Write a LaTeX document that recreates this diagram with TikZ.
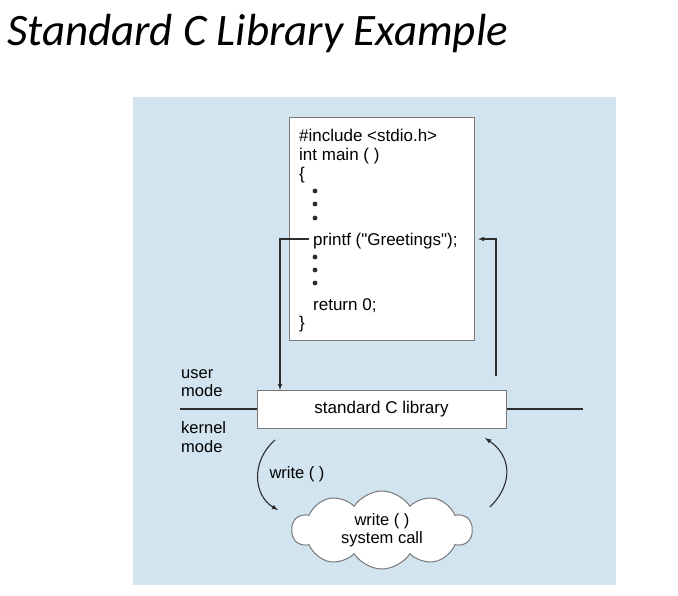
\documentclass[tikz,border=0pt]{standalone}
\usepackage{fontspec}
\newfontfamily\titlefont{Carlito}
\newfontfamily\labelfont{Liberation Sans}
\usepackage{tikz}
\usetikzlibrary{arrows,shapes.symbols}
\definecolor{panelblue}{RGB}{210,228,240}
\definecolor{boxgray}{RGB}{120,120,120}
\definecolor{inkgray}{RGB}{45,45,45}

\begin{document}
\begin{tikzpicture}[x=1pt, y=-1pt,
  codeline/.style={anchor=base west, inner sep=0pt, font=\labelfont\fontsize{17}{19}\selectfont},
  modelabel/.style={anchor=west, align=left, inner sep=0pt, font=\labelfont\fontsize{16.5}{18.5}\selectfont},
  whitebox/.style={draw=boxgray, fill=white, line width=1pt, inner sep=0pt},
  flow/.style={draw=inkgray, line width=1.1pt, -latex},
  dot/.style={fill=inkgray}]
  \useasboundingbox (0,0) rectangle (678,595);
  \node[anchor=base west, inner sep=0pt, font=\titlefont\itshape\fontsize{45}{50}\selectfont] (title) at (7,45) {Standard C Library Example};
  \fill[panelblue] (133,97) rectangle (616,585);
  % program box
  \node[whitebox, minimum width=185pt, minimum height=223pt] (codebox) at (381.5,228.5) {};
  \node[codeline] (inc) at (299,141) {\#include <stdio.h>};
  \node[codeline] (main) at (299,160) {int main ( )};
  \node[codeline] (open) at (299,179) {\{};
  \foreach \y in {191,204,218,257,270,283}
    \fill[dot] (315,\y) circle (2.4pt);
  \node[codeline] (printf) at (313,245) {printf ("Greetings");};
  \node[codeline] (ret) at (313,310) {return 0;};
  \node[codeline] (close) at (299,328) {\}};
  % library and mode line
  \node[whitebox, minimum width=249pt, minimum height=38pt, font=\labelfont\fontsize{17}{19}\selectfont] (lib) at (381.5,409) {standard C library};
  \coordinate (modeL) at (180,409);
  \coordinate (modeR) at (583,409);
  \draw[inkgray, line width=1.1pt] (modeL) -- (lib.west) (lib.east) -- (modeR);
  \node[modelabel] (user) at (181,383) {user\\mode};
  \node[modelabel] (kernel) at (181,437) {kernel\\mode};
  % calls between program and library
  \coordinate (libin) at (280,390);
  \coordinate (libout) at (496,376);
  \coordinate (ret in) at (478,239);
  \draw[flow] ([xshift=-4pt,yshift=6pt]printf.base west) -| (libin);
  \draw[flow] (libout) |- (ret in);
  % system call
  \node[cloud, cloud puffs=10, cloud puff arc=115, aspect=2.4, draw=boxgray, fill=white, line width=1pt,
        minimum width=180pt, minimum height=78pt, align=center,
        font=\labelfont\fontsize{16.5}{18.5}\selectfont] (sys) at (382,530) {write ( )\\system call};
  \coordinate (downS) at (275,440);
  \coordinate (downE) at (278,510);
  \coordinate (upS) at (490,507);
  \coordinate (upE) at (485,438);
  \draw[flow] (downS) .. controls (250,462) and (254,496) .. (downE);
  \draw[flow] (upS) .. controls (515,482) and (510,455) .. (upE);
  \node[font=\labelfont\fontsize{16.5}{18.5}\selectfont, inner sep=0pt] (wlabel) at (297,474) {write ( )};
\end{tikzpicture}
\end{document}
